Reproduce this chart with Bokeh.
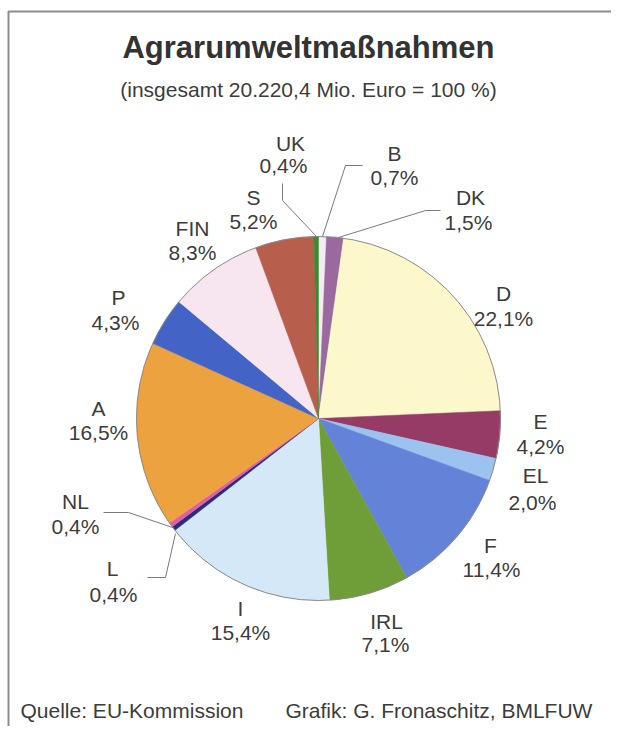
import numpy as np
from bokeh.plotting import figure
from bokeh.models import Range1d, ColumnDataSource
from bokeh.core.properties import value
from bokeh.embed import file_html
from bokeh.resources import INLINE

# ---------------- data ----------------
countries = ["B", "DK", "D", "E", "EL", "F", "IRL", "I", "L", "NL", "A", "P", "FIN", "S", "UK"]
shares = [0.7, 1.5, 22.1, 4.2, 2.0, 11.4, 7.1, 15.4, 0.4, 0.4, 16.5, 4.3, 8.3, 5.2, 0.4]
colors = ["#f3ecf2", "#9a6a9e", "#fcf8cc", "#963b66", "#9cc3ef", "#6283d8", "#6f9e38",
          "#d4e8f7", "#2b2a7e", "#df5ea4", "#eca33f", "#4364c6", "#f7e6ef", "#b75f4c", "#3a8a30"]
title = "Agrarumweltmaßnahmen"
subtitle = "(insgesamt 20.220,4 Mio. Euro = 100 %)"
source_note = "Quelle: EU-Kommission"
credit = "Grafik: G. Fronaschitz, BMLFUW"

# ---------------- layout (page pixel coordinates) ----------------
W, H = 611, 726
def Y(py):
    return H - py

cx, cy, r = 318, Y(418), 182
name_pos = {
    "B": (394, 153), "DK": (470, 197), "D": (503, 293), "E": (540, 421),
    "EL": (535, 475), "F": (490, 545), "IRL": (386, 621), "I": (240, 608),
    "L": (112, 568), "NL": (75, 501), "A": (98, 408), "P": (118, 297),
    "FIN": (192, 228), "S": (253, 197), "UK": (290, 143),
}
pct_pos = {
    "B": (394, 177), "DK": (468, 222), "D": (503, 318), "E": (540, 446),
    "EL": (532, 502), "F": (491, 569), "IRL": (385, 644), "I": (240, 632),
    "L": (113, 594), "NL": (75, 526), "A": (98, 432), "P": (115, 322),
    "FIN": (192, 252), "S": (253, 221), "UK": (283, 165),
}
leaders = {
    "UK": [(282, 183), (282, 200), (316, 236)],
    "B": [(362, 165), (345, 165), (322, 236)],
    "DK": [(440, 210), (425, 210), (338, 237)],
    "NL": [(103, 512), (128, 512), (172, 527)],
    "L": [(147, 577), (165, 577), (175, 533)],
}

TEXT = "#3c3c3c"
FONT = "Liberation Sans"

p = figure(width=W, height=H, output_backend="svg", toolbar_location=None,
           x_range=Range1d(0, W), y_range=Range1d(0, H),
           min_border=0, outline_line_color=None, background_fill_color="white")
p.axis.visible = False
p.grid.visible = False

# frame
p.line([8, 8, 640], [Y(760), Y(11), Y(11)], line_color="#8c8c8c", line_width=2)

# pie wedges (clockwise from 12 o'clock)
vals = np.array(shares, dtype=float)
frac = vals / vals.sum()
cum_end = np.cumsum(frac)
cum_start = cum_end - frac
src = ColumnDataSource(dict(
    start=np.pi / 2 - 2 * np.pi * cum_end,
    end=np.pi / 2 - 2 * np.pi * cum_start,
    color=colors,
))
p.wedge(x=cx, y=cy, radius=r, start_angle="start", end_angle="end",
        fill_color="color", line_color="color", line_width=0.5, source=src)
p.circle(x=cx, y=cy, radius=r, fill_color=None, line_color="#8a8a8a", line_width=1)

# leader lines
for k, pts in leaders.items():
    p.line([q[0] for q in pts], [Y(q[1]) for q in pts], line_color="#7a7a7a", line_width=1)

# labels
pct_text = [f"{v:.1f}".replace(".", ",") + "%" for v in shares]
lab = ColumnDataSource(dict(
    nx=[name_pos[c][0] for c in countries], ny=[Y(name_pos[c][1]) for c in countries],
    px=[pct_pos[c][0] for c in countries], py=[Y(pct_pos[c][1]) for c in countries],
    name=countries, pct=pct_text,
))
for xk, yk, tk in (("nx", "ny", "name"), ("px", "py", "pct")):
    p.text(x=xk, y=yk, text=tk, source=lab, text_font=value(FONT), text_font_size="21px",
           text_color=TEXT, text_align="center", text_baseline="middle")

# title & notes
p.text(x=[308], y=[Y(47)], text=[title], text_font=value(FONT), text_font_size="31px",
       text_font_style="bold", text_color="#333333", text_align="center", text_baseline="middle")
p.text(x=[308], y=[Y(89)], text=[subtitle], text_font=value(FONT), text_font_size="21px",
       text_color=TEXT, text_align="center", text_baseline="middle")
p.text(x=[20], y=[Y(710)], text=[source_note], text_font=value(FONT), text_font_size="21px",
       text_color=TEXT, text_align="left", text_baseline="middle")
p.text(x=[285], y=[Y(710)], text=[credit], text_font=value(FONT), text_font_size="21px",
       text_color=TEXT, text_align="left", text_baseline="middle")

open("out.html", "w").write(file_html(p, INLINE))
